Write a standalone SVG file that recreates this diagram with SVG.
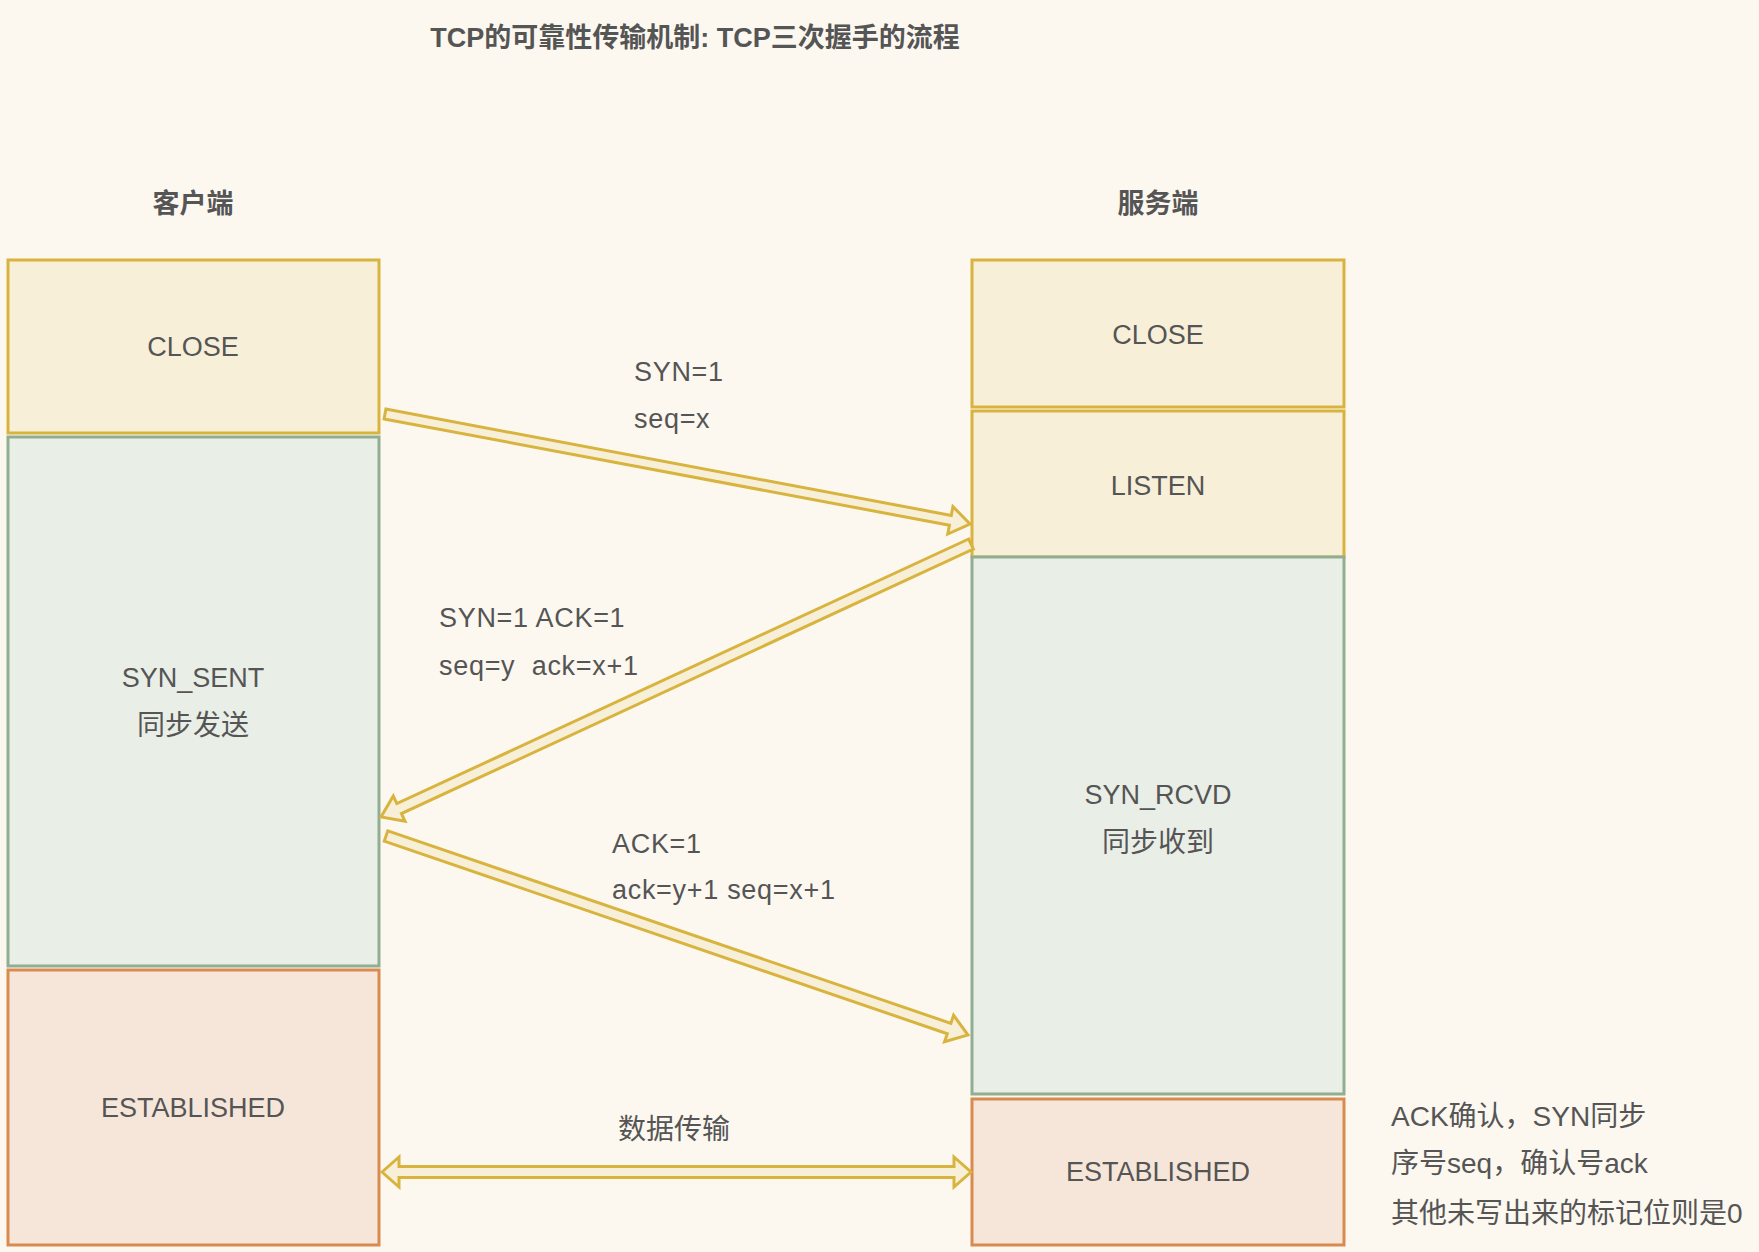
<svg xmlns="http://www.w3.org/2000/svg" width="1759" height="1252" viewBox="0 0 1759 1252">
<style>
  text { font-family: "Liberation Sans", "Noto Sans CJK SC", sans-serif; fill: #555555; font-size: 27px; }
  .c { text-anchor: middle; }
  .b { font-weight: bold; }
  .l { letter-spacing: 0.7px; }
  .n { font-size: 28px; }
  .y { fill: #f8efd8; stroke: #d8b43e; stroke-width: 3; }
  .g { fill: #e9eee6; stroke: #91ae93; stroke-width: 3; }
  .o { fill: #f6e6da; stroke: #d98a4e; stroke-width: 3; }
  .arrow { fill: #f8efd8; stroke: #d8b43e; stroke-width: 3; stroke-linejoin: miter; }
</style>
<rect x="0" y="0" width="1759" height="1252" fill="#fcf8f0"/>
<text class="c b" x="695" y="47" font-size="29.3">TCP的可靠性传输机制: TCP三次握手的流程</text>
<text class="c b" x="193" y="213" font-size="27.5">客户端</text>
<text class="c b" x="1158" y="213" font-size="27.5">服务端</text>

<g id="client-close"><rect class="y" x="8" y="260" width="371" height="173"/><text class="c" x="193" y="356">CLOSE</text></g>
<g id="client-synsent"><rect class="g" x="8" y="437" width="371" height="529"/><text class="c" x="193" y="687">SYN_SENT</text><text class="c n" x="193" y="735">同步发送</text></g>
<g id="client-established"><rect class="o" x="8" y="970" width="371" height="275"/><text class="c" x="193" y="1117">ESTABLISHED</text></g>

<g id="server-close"><rect class="y" x="972" y="260" width="372" height="147"/><text class="c" x="1158" y="344">CLOSE</text></g>
<g id="server-listen"><rect class="y" x="972" y="411" width="372" height="146"/><text class="c" x="1158" y="495">LISTEN</text></g>
<g id="server-synrcvd"><rect class="g" x="972" y="557" width="372" height="537"/><text class="c" x="1158" y="804">SYN_RCVD</text><text class="c n" x="1158" y="852">同步收到</text></g>
<g id="server-established"><rect class="o" x="972" y="1099" width="372" height="146"/><text class="c" x="1158" y="1181">ESTABLISHED</text></g>

<g id="connectors">
  <polygon class="arrow" points="384.08,418.91 949.42,525.22 947.76,534.06 970,524 952.93,506.54 951.27,515.39 385.92,409.09"/>
  <polygon class="arrow" points="968.69,539.01 396.84,803.61 393.27,795.89 381,817 405.03,821.31 401.46,813.59 973.31,548.99"/>
  <polygon class="arrow" points="384.22,841.20 947.30,1033.73 944.55,1041.78 968,1035 953.61,1015.28 950.86,1023.33 387.78,830.80"/>
  <polygon class="arrow" points="382,1172 399,1157 399,1166.5 954,1166.5 954,1157 971,1172 954,1187 954,1177.5 399,1177.5 399,1187"/>
</g>

<g id="labels">
  <text class="l" x="634" y="381">SYN=1</text>
  <text class="l" x="634" y="428">seq=x</text>
  <text class="l" x="439" y="627">SYN=1 ACK=1</text>
  <text class="l" x="439" y="675" xml:space="preserve">seq=y  ack=x+1</text>
  <text class="l" x="612" y="853">ACK=1</text>
  <text class="l" x="612" y="899">ack=y+1 seq=x+1</text>
  <text class="c n" x="674" y="1139">数据传输</text>
</g>

<g id="notes">
  <text class="n" x="1391" y="1126">ACK确认，SYN同步</text>
  <text class="n" x="1391" y="1173">序号seq，确认号ack</text>
  <text class="n" x="1391" y="1223">其他未写出来的标记位则是0</text>
</g>
</svg>
